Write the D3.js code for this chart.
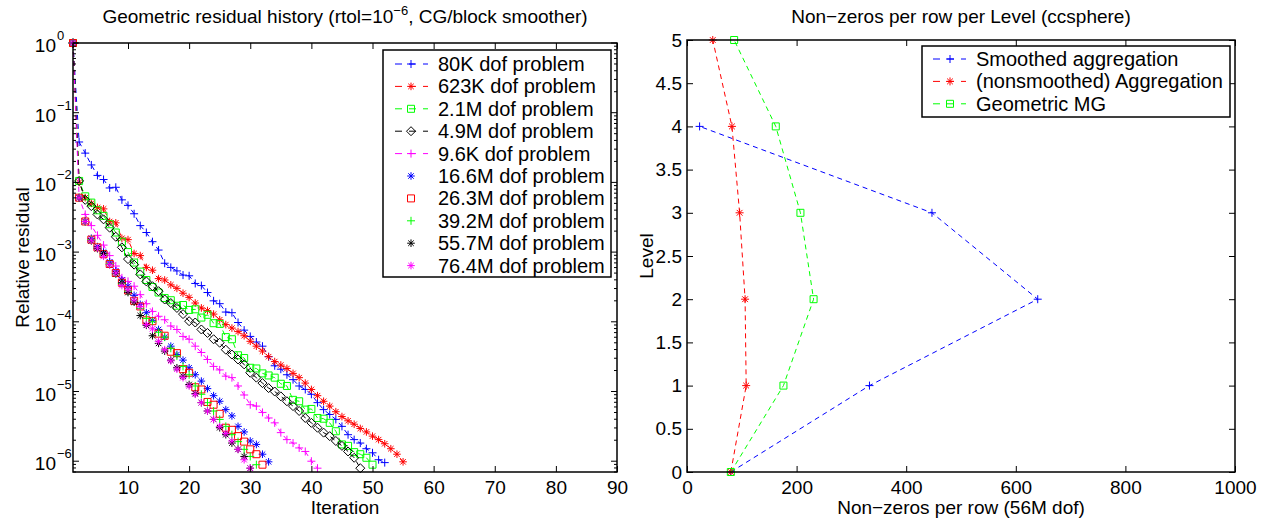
<!DOCTYPE html>
<html>
<head>
<meta charset="utf-8">
<script src="https://cdn.jsdelivr.net/npm/d3@7"></script>
<style>
body { margin: 0; background: white; }
text { font-family: "Liberation Sans", Arial, sans-serif; fill: black; }
</style>
</head>
<body>
<script>

// ---- left chart data: relative residual per iteration (iteration 1, 2, ...)
const resid80K = [1, 3.8e-2, 2.63e-2, 1.78e-2, 1.26e-2, 1.10e-2, 8.32e-3, 8.51e-3, 5.62e-3, 4.68e-3,
  3.55e-3, 2.40e-3, 1.91e-3, 1.41e-3, 1.07e-3, 6.92e-4, 6.03e-4, 5.37e-4, 4.68e-4, 4.57e-4,
  3.55e-4, 3.31e-4, 2.63e-4, 2.0e-4, 1.82e-4, 1.38e-4, 1.35e-4, 9.77e-5, 7.59e-5, 6.17e-5,
  5.13e-5, 4.47e-5, 3.16e-5, 2.34e-5, 2.09e-5, 1.74e-5, 1.48e-5, 1.20e-5, 1.07e-5, 9.12e-6,
  6.92e-6, 5.50e-6, 4.68e-6, 3.98e-6, 3.16e-6, 2.40e-6, 2.04e-6, 1.82e-6, 1.51e-6, 1.32e-6,
  1.05e-6, 9.55e-7];
const resid623K = [1, 1.0e-2, 6.03e-3, 5.01e-3, 4.37e-3, 4.17e-3, 2.75e-3, 2.63e-3, 1.58e-3, 1.51e-3,
  9.55e-4, 8.91e-4, 6.03e-4, 5.50e-4, 4.17e-4, 3.98e-4, 3.39e-4, 3.02e-4, 2.57e-4, 2.24e-4,
  1.86e-4, 1.58e-4, 1.45e-4, 1.29e-4, 1.07e-4, 9.12e-5, 8.13e-5, 7.24e-5, 6.31e-5, 5.25e-5,
  4.47e-5, 3.80e-5, 3.16e-5, 2.69e-5, 2.40e-5, 2.14e-5, 1.82e-5, 1.58e-5, 1.32e-5, 1.07e-5,
  8.71e-6, 7.24e-6, 6.17e-6, 5.13e-6, 4.37e-6, 3.80e-6, 3.39e-6, 2.95e-6, 2.63e-6, 2.29e-6,
  2.04e-6, 1.78e-6, 1.51e-6, 1.26e-6, 9.8e-7];
const resid2_1M = [1, 1.05e-2, 6.31e-3, 5.13e-3, 3.98e-3, 3.31e-3, 2.51e-3, 1.91e-3, 1.41e-3, 1.0e-3,
  7.08e-4, 5.25e-4, 3.98e-4, 3.16e-4, 2.63e-4, 2.19e-4, 2.04e-4, 1.70e-4, 1.74e-4, 1.48e-4,
  1.51e-4, 1.15e-4, 1.26e-4, 9.55e-5, 9.33e-5, 6.03e-5, 5.62e-5, 3.31e-5, 3.02e-5, 2.19e-5,
  2.14e-5, 1.82e-5, 1.70e-5, 1.58e-5, 1.29e-5, 1.20e-5, 7.59e-6, 7.24e-6, 5.50e-6, 5.62e-6,
  4.17e-6, 4.07e-6, 3.55e-6, 2.69e-6, 1.74e-6, 1.66e-6, 1.35e-6, 1.26e-6, 1.12e-6, 8.91e-7];
const resid4_9M = [1, 1.05e-2, 5.62e-3, 4.57e-3, 3.47e-3, 2.95e-3, 2.24e-3, 1.66e-3, 1.17e-3, 7.94e-4,
  6.61e-4, 4.79e-4, 3.80e-4, 3.24e-4, 2.75e-4, 2.09e-4, 1.86e-4, 1.58e-4, 1.29e-4, 1.02e-4,
  9.77e-5, 7.76e-5, 6.92e-5, 5.62e-5, 5.01e-5, 3.98e-5, 3.39e-5, 2.88e-5, 2.45e-5, 1.86e-5,
  1.58e-5, 1.32e-5, 1.12e-5, 1.0e-5, 8.51e-6, 7.24e-6, 6.17e-6, 5.25e-6, 4.17e-6, 3.55e-6,
  3.02e-6, 2.57e-6, 2.29e-6, 1.95e-6, 1.66e-6, 1.38e-6, 1.12e-6, 7.94e-7];
const resid9_6K = [1, 6.03e-3, 3.47e-3, 2.40e-3, 1.74e-3, 1.26e-3, 8.91e-4, 6.31e-4, 4.27e-4, 3.80e-4,
  3.24e-4, 2.45e-4, 1.82e-4, 1.41e-4, 1.20e-4, 1.07e-4, 8.71e-5, 7.76e-5, 6.17e-5, 5.62e-5,
  4.47e-5, 3.63e-5, 2.88e-5, 2.29e-5, 2.04e-5, 1.66e-5, 1.58e-5, 1.20e-5, 8.91e-6, 6.46e-6,
  6.17e-6, 5.01e-6, 4.17e-6, 3.55e-6, 2.57e-6, 2.04e-6, 1.82e-6, 1.55e-6, 1.38e-6, 1.0e-6,
  7.94e-7];
const resid16_6M = [1, 6.03e-3, 2.75e-3, 1.58e-3, 1.20e-3, 1.0e-3, 7.24e-4, 5.37e-4, 3.98e-4, 3.24e-4,
  2.40e-4, 1.78e-4, 1.35e-4, 1.05e-4, 7.76e-5, 6.03e-5, 4.47e-5, 3.39e-5, 2.82e-5, 2.19e-5,
  1.74e-5, 1.41e-5, 1.10e-5, 8.71e-6, 7.24e-6, 5.50e-6, 4.47e-6, 3.16e-6, 2.63e-6, 1.95e-6,
  1.74e-6, 1.26e-6, 9.8e-7];
const resid26_3M = [1, 6.03e-3, 2.75e-3, 1.51e-3, 1.17e-3, 9.33e-4, 6.76e-4, 5.01e-4, 3.63e-4, 2.82e-4,
  2.0e-4, 1.66e-4, 1.05e-4, 1.02e-4, 6.76e-5, 6.31e-5, 3.72e-5, 3.55e-5, 2.09e-5, 1.86e-5,
  1.15e-5, 1.07e-5, 7.08e-6, 6.46e-6, 4.79e-6, 3.02e-6, 2.82e-6, 2.29e-6, 1.91e-6, 1.48e-6,
  1.26e-6, 8.91e-7];
const resid39_2M = [1, 6.03e-3, 2.75e-3, 1.51e-3, 1.15e-3, 9.12e-4, 6.76e-4, 4.90e-4, 3.55e-4, 2.75e-4,
  2.0e-4, 1.55e-4, 1.12e-4, 1.0e-4, 7.08e-5, 6.03e-5, 4.17e-5, 3.24e-5, 2.29e-5, 1.74e-5,
  1.20e-5, 9.12e-6, 6.92e-6, 5.25e-6, 3.98e-6, 3.16e-6, 2.40e-6, 1.91e-6, 1.48e-6, 1.17e-6,
  8.91e-7];
const resid55_7M = [1, 6.03e-3, 2.75e-3, 1.45e-3, 1.12e-3, 9.55e-4, 6.61e-4, 4.90e-4, 3.63e-4, 2.63e-4,
  1.91e-4, 1.23e-4, 8.91e-5, 6.31e-5, 4.90e-5, 3.80e-5, 2.82e-5, 2.19e-5, 1.66e-5, 1.26e-5,
  9.33e-6, 6.92e-6, 5.25e-6, 3.98e-6, 3.02e-6, 2.40e-6, 1.82e-6, 1.48e-6, 1.17e-6, 7.94e-7];
const resid76_4M = [1, 6.03e-3, 2.75e-3, 1.48e-3, 1.15e-3, 8.71e-4, 6.61e-4, 5.01e-4, 3.31e-4, 2.88e-4,
  2.04e-4, 1.66e-4, 9.12e-5, 7.94e-5, 5.25e-5, 3.98e-5, 2.75e-5, 2.09e-5, 1.58e-5, 1.20e-5,
  9.12e-6, 6.92e-6, 5.25e-6, 3.98e-6, 3.16e-6, 2.51e-6, 1.95e-6, 1.48e-6, 1.05e-6, 7.94e-7];

const problemNames = ["80K dof problem", "623K dof problem", "2.1M dof problem", "4.9M dof problem",
  "9.6K dof problem", "16.6M dof problem", "26.3M dof problem", "39.2M dof problem",
  "55.7M dof problem", "76.4M dof problem"];
const residXTicks = [10, 20, 30, 40, 50, 60, 70, 80, 90];
const residYTicks = [1e0, 1e-1, 1e-2, 1e-3, 1e-4, 1e-5, 1e-6];
const residYExponents = ["0", "\u22121", "\u22122", "\u22123", "\u22124", "\u22125", "\u22126"];

// ---- right chart data: non-zeros per row at each level
const levelsSmoothed = [0, 1, 2, 3, 4];
const nnzSmoothed = [80, 333, 640, 447, 23];
const levelsOther = [0, 1, 2, 3, 4, 5];
const nnzNonsmoothed = [80, 108, 106, 96, 82, 47];
const nnzGeometric = [80, 176, 231, 207, 162, 86];
const methodNames = ["Smoothed aggregation", "(nonsmoothed) Aggregation", "Geometric MG"];
const nnzXTicks = [0, 200, 400, 600, 800, 1000];
const levelTicks = [0, 0.5, 1, 1.5, 2, 2.5, 3, 3.5, 4, 4.5, 5];

// ---- styles
const residValues = [resid80K, resid623K, resid2_1M, resid4_9M, resid9_6K,
  resid16_6M, resid26_3M, resid39_2M, resid55_7M, resid76_4M];
const residColors = ["#0000ff", "#ff0000", "#00ff00", "#000000", "#ff00ff",
  "#0000ff", "#ff0000", "#00ff00", "#000000", "#ff00ff"];
const residMarkers = ["plus", "star", "square", "diamond", "plus", "star", "square", "plus", "star", "star"];
const residDashed = [true, true, true, true, true, false, false, false, false, false];

const markerSize = {plus: 4, star: 3.8, square: 3.5, diamond: 4.5};
function markerPath(type, r) {
  r = r || markerSize[type];
  if (type === "plus") return `M${-r},0H${r}M0,${-r}V${r}`;
  if (type === "star") {
    const d = r * 0.72;
    return `M${-r},0H${r}M0,${-r}V${r}M${-d},${-d}L${d},${d}M${-d},${d}L${d},${-d}`;
  }
  if (type === "square") return `M${-r},${-r}H${r}V${r}H${-r}Z`;
  return `M0,${-r}L${r},0L0,${r}L${-r},0Z`;
}

const W = 1266, H = 519;
const svg = d3.select("body").append("svg").attr("width", W).attr("height", H);
const fs = 19;
const legendFs = 20;

// ================= left chart =================
const L = {left: 73, right: 617, top: 43, bottom: 472};
const xL = d3.scaleLinear().domain([1, 90]).range([L.left, L.right]);
const yL = d3.scaleLog().domain([7e-7, 1]).range([L.bottom, L.top]);

const gL = svg.append("g");

// series
const lineL = d3.line().x((d, i) => xL(i + 1)).y(d => yL(d));
residValues.forEach((vals, k) => {
  const g = gL.append("g");
  if (residDashed[k]) {
    g.append("path").attr("d", lineL(vals)).attr("fill", "none")
      .attr("stroke", residColors[k]).attr("stroke-width", 1).attr("stroke-dasharray", "5,4");
  }
  g.selectAll("path.m").data(vals).enter().append("path").attr("class", "m")
    .attr("transform", (d, i) => `translate(${xL(i + 1)},${yL(d)})`)
    .attr("d", markerPath(residMarkers[k]))
    .attr("fill", "none").attr("stroke", residColors[k]).attr("stroke-width", 1);
});

// axes box
gL.append("rect").attr("x", L.left).attr("y", L.top)
  .attr("width", L.right - L.left).attr("height", L.bottom - L.top)
  .attr("fill", "none").attr("stroke", "black").attr("stroke-width", 1.5);

const xAxisL = d3.axisBottom(xL).tickValues(residXTicks).tickSize(-6).tickSizeOuter(0).tickPadding(9);
gL.append("g").attr("transform", `translate(0,${L.bottom})`).call(xAxisL)
  .call(g => g.select(".domain").remove())
  .call(g => g.selectAll("text").attr("font-size", fs).attr("font-family", "Liberation Sans, Arial, sans-serif"));
gL.append("g").attr("transform", `translate(0,${L.top})`)
  .call(d3.axisTop(xL).tickValues(residXTicks).tickSize(-6).tickFormat(""))
  .call(g => g.select(".domain").remove());

// log ticks on left and right
const minorL = [];
for (let e = -7; e < 0; e++) {
  for (let m = 2; m <= 9; m++) {
    const v = m * Math.pow(10, e);
    if (v >= 7e-7 && v < 1) minorL.push(v);
  }
}
[[L.left, 1], [L.right, -1]].forEach(([x0, s]) => {
  gL.selectAll(null).data(residYTicks).enter().append("line")
    .attr("x1", x0).attr("x2", x0 + s * 6).attr("y1", d => yL(d)).attr("y2", d => yL(d))
    .attr("stroke", "black");
  gL.selectAll(null).data(minorL).enter().append("line")
    .attr("x1", x0).attr("x2", x0 + s * 3).attr("y1", d => yL(d)).attr("y2", d => yL(d))
    .attr("stroke", "black");
});
residYTicks.forEach((v, i) => {
  const y = yL(v);
  gL.append("text").attr("x", 56).attr("y", y + 9).attr("text-anchor", "end")
    .attr("font-size", fs).text("10");
  gL.append("text").attr("x", 57).attr("y", y - 3).attr("font-size", 13).text(residYExponents[i]);
});

gL.append("text").attr("x", (L.left + L.right) / 2).attr("y", 514).attr("text-anchor", "middle")
  .attr("font-size", fs).text("Iteration");
gL.append("text").attr("transform", `translate(29,${(L.top + L.bottom) / 2}) rotate(-90)`)
  .attr("text-anchor", "middle").attr("font-size", fs).text("Relative residual");

const titleL = gL.append("text").attr("x", (L.left + L.right) / 2).attr("y", 23)
  .attr("text-anchor", "middle").attr("font-size", fs);
titleL.append("tspan").text("Geometric residual history (rtol=10");
titleL.append("tspan").attr("font-size", 13).attr("dy", -8).text("\u22126");
titleL.append("tspan").attr("dy", 8).text(", CG/block smoother)");

// legend
const legL = gL.append("g");
legL.append("rect").attr("x", 383).attr("y", 50).attr("width", 228).attr("height", 227)
  .attr("fill", "white").attr("stroke", "black").attr("stroke-width", 1.5);
problemNames.forEach((name, k) => {
  const cy = 64 + k * 22.4;
  if (residDashed[k]) {
    legL.append("line").attr("x1", 395).attr("x2", 428).attr("y1", cy).attr("y2", cy)
      .attr("stroke", residColors[k]).attr("stroke-dasharray", "7,7");
  }
  legL.append("path").attr("transform", `translate(411,${cy})`).attr("d", markerPath(residMarkers[k]))
    .attr("fill", "none").attr("stroke", residColors[k]);
  legL.append("text").attr("x", 438).attr("y", cy + 7).attr("font-size", legendFs).text(name);
});

// ================= right chart =================
const R = {left: 687, right: 1235, top: 40, bottom: 472};
const xR = d3.scaleLinear().domain([0, 1000]).range([R.left, R.right]);
const yR = d3.scaleLinear().domain([0, 5]).range([R.bottom, R.top]);
const gR = svg.append("g");

const methodSeries = [
  {x: nnzSmoothed, y: levelsSmoothed, color: "#0000ff", marker: "plus"},
  {x: nnzNonsmoothed, y: levelsOther, color: "#ff0000", marker: "star"},
  {x: nnzGeometric, y: levelsOther, color: "#00ff00", marker: "square"}
];
methodSeries.forEach(s => {
  const pts = s.x.map((v, i) => [v, s.y[i]]);
  gR.append("path").attr("d", d3.line().x(d => xR(d[0])).y(d => yR(d[1]))(pts))
    .attr("fill", "none").attr("stroke", s.color).attr("stroke-dasharray", "5,4");
  gR.selectAll(null).data(pts).enter().append("path")
    .attr("transform", d => `translate(${xR(d[0])},${yR(d[1])})`)
    .attr("d", markerPath(s.marker, s.marker === "square" ? 3.5 : 4))
    .attr("fill", "none").attr("stroke", s.color);
});

gR.append("rect").attr("x", R.left).attr("y", R.top)
  .attr("width", R.right - R.left).attr("height", R.bottom - R.top)
  .attr("fill", "none").attr("stroke", "black").attr("stroke-width", 1.5);

gR.append("g").attr("transform", `translate(0,${R.bottom})`)
  .call(d3.axisBottom(xR).tickValues(nnzXTicks).tickSize(-6).tickSizeOuter(0).tickPadding(9)
    .tickFormat(d => String(d)))
  .call(g => g.select(".domain").remove())
  .call(g => g.selectAll("text").attr("font-size", fs).attr("font-family", "Liberation Sans, Arial, sans-serif"));
gR.append("g").attr("transform", `translate(0,${R.top})`)
  .call(d3.axisTop(xR).tickValues(nnzXTicks).tickSize(-6).tickFormat(""))
  .call(g => g.select(".domain").remove());
gR.append("g").attr("transform", `translate(${R.left},0)`)
  .call(d3.axisLeft(yR).tickValues(levelTicks).tickSize(-6).tickSizeOuter(0).tickPadding(5)
    .tickFormat(d => String(d)))
  .call(g => g.select(".domain").remove())
  .call(g => g.selectAll("text").attr("font-size", fs).attr("font-family", "Liberation Sans, Arial, sans-serif"));
gR.append("g").attr("transform", `translate(${R.right},0)`)
  .call(d3.axisRight(yR).tickValues(levelTicks).tickSize(-6).tickFormat(""))
  .call(g => g.select(".domain").remove());

gR.append("text").attr("x", (R.left + R.right) / 2).attr("y", 514).attr("text-anchor", "middle")
  .attr("font-size", fs).text("Non\u2212zeros per row (56M dof)");
gR.append("text").attr("transform", `translate(653,${(R.top + R.bottom) / 2}) rotate(-90)`)
  .attr("text-anchor", "middle").attr("font-size", fs).text("Level");
gR.append("text").attr("x", (R.left + R.right) / 2).attr("y", 23).attr("text-anchor", "middle")
  .attr("font-size", fs).text("Non\u2212zeros per row per Level (ccsphere)");

const legR = gR.append("g");
legR.append("rect").attr("x", 922).attr("y", 46).attr("width", 308).attr("height", 71)
  .attr("fill", "white").attr("stroke", "black").attr("stroke-width", 1.5);
methodNames.forEach((name, k) => {
  const cy = 59 + k * 22.4;
  legR.append("line").attr("x1", 933).attr("x2", 966).attr("y1", cy).attr("y2", cy)
    .attr("stroke", methodSeries[k].color).attr("stroke-dasharray", "7,7");
  legR.append("path").attr("transform", `translate(950,${cy})`)
    .attr("d", markerPath(methodSeries[k].marker, methodSeries[k].marker === "square" ? 3.5 : 4))
    .attr("fill", "none").attr("stroke", methodSeries[k].color);
  legR.append("text").attr("x", 976).attr("y", cy + 7).attr("font-size", legendFs).text(name);
});

</script>
</body>
</html>
